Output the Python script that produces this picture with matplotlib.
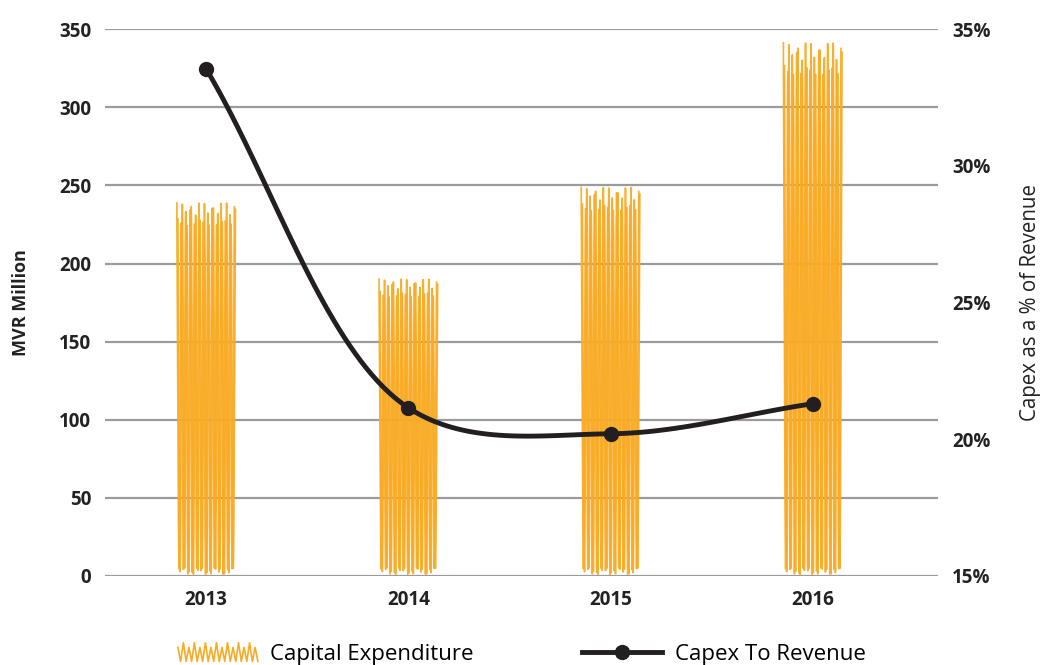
import numpy as np
import matplotlib.pyplot as plt
from matplotlib.lines import Line2D
from matplotlib.legend_handler import HandlerBase

years = ["2013", "2014", "2015", "2016"]
capex = [240, 191, 250, 343]            # MVR million
capex_ratio = [33.55, 21.15, 20.2, 21.3]  # % of revenue

orange = "#F9AB25"
dark = "#231F20"
grid_c = "#9B9B9B"

plt.rcParams["font.family"] = ["Open Sans", "DejaVu Sans"]


def hermite_curve(xs, ys, n=40, sx=1.0, sy=1.0, alpha=0.0):
    # catmull-rom through the points (alpha 0.5 = centripetal, in scaled space)
    X = np.asarray(xs, float) * sx
    Y = np.asarray(ys, float) * sy
    P = np.stack([X, Y], axis=1)
    m = len(P)
    t = [0.0]
    for i in range(1, m):
        d = np.hypot(*(P[i] - P[i - 1]))
        t.append(t[-1] + max(d, 1e-9) ** alpha)
    t = np.array(t)
    M = np.zeros_like(P)
    for i in range(m):
        if i == 0:
            M[i] = (P[1] - P[0]) / (t[1] - t[0])
        elif i == m - 1:
            M[i] = (P[i] - P[i - 1]) / (t[i] - t[i - 1])
        else:
            M[i] = ((P[i] - P[i - 1]) / (t[i] - t[i - 1])
                    - (P[i + 1] - P[i - 1]) / (t[i + 1] - t[i - 1])
                    + (P[i + 1] - P[i]) / (t[i + 1] - t[i]))
    outx, outy = [], []
    for i in range(m - 1):
        dt = t[i + 1] - t[i]
        s = np.linspace(0, 1, n)[:, None]
        h00 = 2 * s**3 - 3 * s**2 + 1
        h10 = s**3 - 2 * s**2 + s
        h01 = -2 * s**3 + 3 * s**2
        h11 = s**3 - s**2
        seg = h00 * P[i] + h10 * M[i] * dt + h01 * P[i + 1] + h11 * M[i + 1] * dt
        outx.append(seg[:, 0] / sx)
        outy.append(seg[:, 1] / sy)
    return np.concatenate(outx), np.concatenate(outy)


def scribble(ax, xc, top, width, strokes=27):
    # sketchy zig-zag fill for a bar
    for p in range(2):
        px, py = [], []
        for k in range(strokes):
            f = (k + 0.5 * p) / (strokes - 0.5)
            x = xc - width / 2 + f * width
            if k % 2 == 0:
                y = top * (0.965 + 0.03 * np.cos(k * 1.9 + 2 * p))
            else:
                y = 3 + 2 * np.sin(k * 2.3 + p)
            px.append(x)
            py.append(y)
        cx, cy = hermite_curve(px, py, n=16)
        ax.plot(cx, cy, color=orange, lw=1.2, zorder=2, alpha=0.95)


class ScribbleHandler(HandlerBase):
    def create_artists(self, legend, orig_handle, xdescent, ydescent,
                       width, height, fontsize, trans):
        n = 30
        xs = np.linspace(0, width, n) - xdescent
        ys = np.array([height * (1.1 if i % 2 == 0 else -0.1) for i in range(n)]) - ydescent
        ys[::4] -= height * 0.3
        ln = Line2D(xs, ys, color=orange, lw=1.2, transform=trans)
        return [ln]


fig = plt.figure(figsize=(10.4, 6.65), dpi=100)
ax = fig.add_axes([0.101, 0.134, 0.801, 0.822])
ax2 = ax.twinx()

x = np.arange(len(years))
for xi, v in zip(x, capex):
    scribble(ax, xi, v, 0.29)

ax.set_ylim(0, 350)
ax.set_yticks(np.arange(0, 351, 50))
ax.set_xlim(-0.5, 3.62)
ax.set_xticks(x)
ax.set_xticklabels(years)
ax.grid(axis="y", color=grid_c, lw=1.6)
ax.set_axisbelow(True)
ax.tick_params(length=0, labelsize=13.5, pad=10)
for lab in ax.get_xticklabels() + ax.get_yticklabels():
    lab.set_fontweight("bold")
    lab.set_color("#222222")
ax.set_ylabel("MVR Million", fontsize=13, fontweight="bold", labelpad=21, color="#222222")

cx, cy = hermite_curve(x, capex_ratio, sx=202, sy=27.35, alpha=0.5)
ax2.plot(cx, cy, color=dark, lw=3.5, zorder=5, solid_capstyle="round")
ax2.plot(x, capex_ratio, "o", color=dark, ms=10, zorder=6)
ax2.set_ylim(15, 35)
ax2.set_yticks([15, 20, 25, 30, 35])
ax2.set_yticklabels([f"{v}%" for v in [15, 20, 25, 30, 35]])
ax2.tick_params(length=0, labelsize=13.5, pad=10)
for lab in ax2.get_yticklabels():
    lab.set_fontweight("bold")
    lab.set_color("#222222")
ax2.set_ylabel("Capex as a % of Revenue", fontsize=14.8, labelpad=21, color="#222222")

for a in (ax, ax2):
    for s in a.spines.values():
        s.set_visible(False)

h1 = Line2D([], [], color=orange)
h2 = Line2D([], [], color=dark, lw=3.5, marker="o", ms=10)
fig.legend([h1, h2], ["Capital Expenditure", "Capex To Revenue"],
           handler_map={h1: ScribbleHandler()},
           loc="center left", bbox_to_anchor=(0.171, 0.016), ncol=2, frameon=False,
           borderpad=0, borderaxespad=0,
           fontsize=16, handlelength=3.6, handletextpad=0.55, columnspacing=4.9)

fig.savefig("out.png", dpi=100)
